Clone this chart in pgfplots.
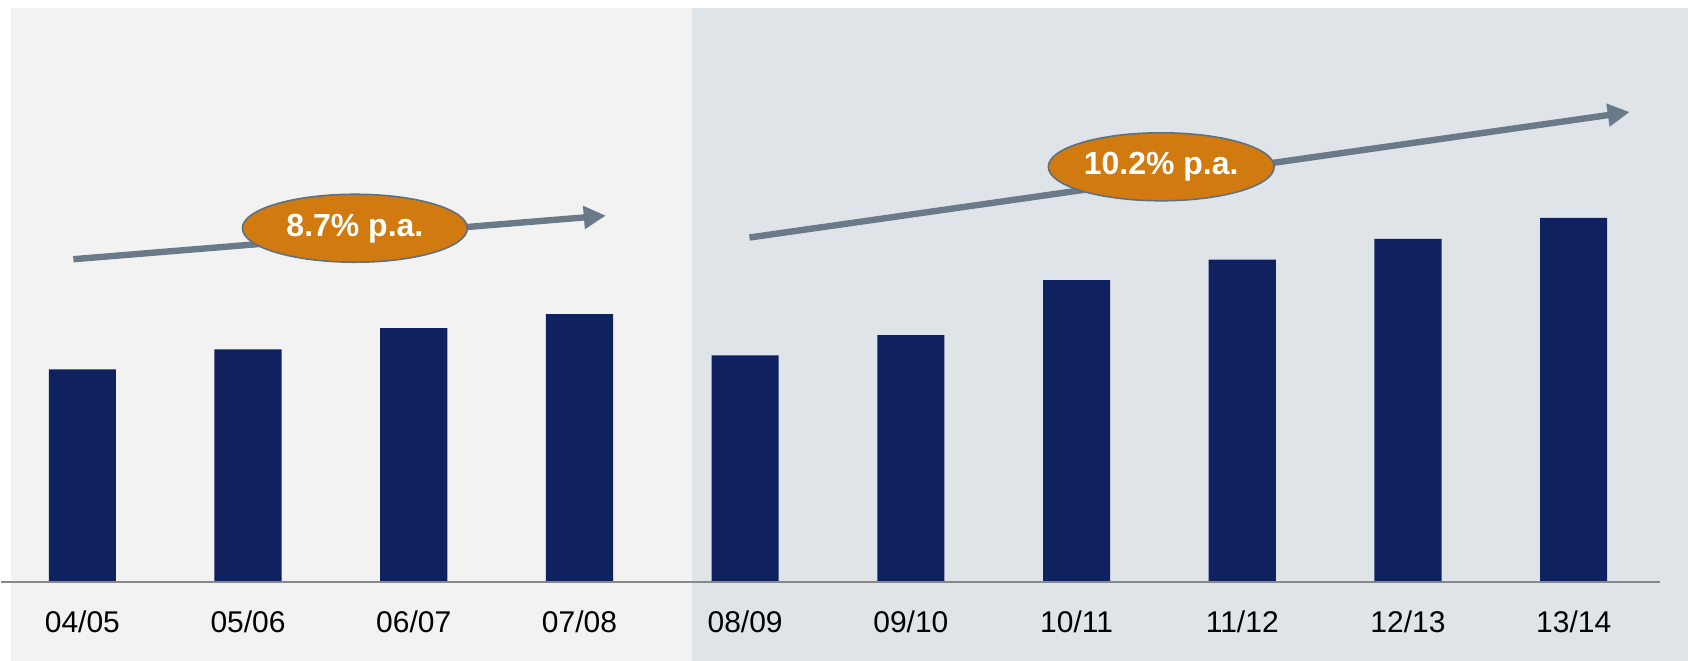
\documentclass[border=0pt]{standalone}
\usepackage{fontspec}
\setmainfont{Liberation Sans}
\usepackage{pgfplots}
\pgfplotsset{compat=1.18}
\usetikzlibrary{arrows.meta,shapes.geometric}
\definecolor{leftbg}{RGB}{242,242,242}
\definecolor{rightbg}{RGB}{223,228,233}
\definecolor{barblue}{RGB}{16,33,96}
\definecolor{arrowgray}{RGB}{107,122,136}
\definecolor{pillorange}{RGB}{208,122,16}
\definecolor{pillborder}{RGB}{95,112,128}
\definecolor{axisgray}{RGB}{136,136,136}
\begin{document}
\begin{tikzpicture}
\begin{axis}[
  set layers,
  scale only axis,
  width=422pt, height=145.5pt,
  xmin=-0.4903, xmax=9.690,
  ymin=0, ymax=582,
  clip=false,
  axis line style={draw=none},
  ytick=\empty,
  xtick={0,1,2,3,4,5,6,7,8,9},
  xticklabels={04/05,05/06,06/07,07/08,08/09,09/10,10/11,11/12,12/13,13/14},
  major tick length=0pt,
  xticklabel style={anchor=center, yshift=-10pt, font=\fontsize{7.5}{8}\selectfont, text=black},
]
% backgrounds
\begin{pgfonlayer}{axis background}
\fill[white] (axis cs:-0.4903,-79) rectangle (axis cs:9.690,582);
\fill[leftbg] (axis cs:-0.430,-79) rectangle (axis cs:3.677,574);
\fill[rightbg] (axis cs:3.677,-79) rectangle (axis cs:9.690,574);
\end{pgfonlayer}

\addplot[ybar, bar width=0.405, fill=barblue, draw=none] coordinates {
  (0,212.7) (1,232.9) (2,254.0) (3,268.0) (4,226.7)
  (5,247.0) (6,302.0) (7,322.7) (8,343.3) (9,364.3)
};

% baseline
\draw[axisgray, line width=0.55pt] (axis cs:-0.4903,0) -- (axis cs:9.522,0);

% growth arrows
\draw[arrowgray, line width=1.6pt, -{Triangle[width=5.5pt,length=5.5pt]}]
  (axis cs:-0.0543,323) -- (axis cs:3.159,366.6);
\draw[arrowgray, line width=1.6pt, -{Triangle[width=5.5pt,length=5.5pt]}]
  (axis cs:4.026,344.7) -- (axis cs:9.338,470.3);

% labels
\node[ellipse, draw=pillborder, line width=0.4pt, fill=pillorange, inner sep=0pt,
  minimum width=56.25pt, minimum height=17pt, text=white,
  font=\fontsize{8}{9}\selectfont\bfseries] at (axis cs:1.645,354) {8.7\% p.a.};
\node[ellipse, draw=pillborder, line width=0.4pt, fill=pillorange, inner sep=0pt,
  minimum width=56.5pt, minimum height=17pt, text=white,
  font=\fontsize{8}{9}\selectfont\bfseries] at (axis cs:6.511,415.5) {10.2\% p.a.};
\end{axis}
\end{tikzpicture}
\end{document}
